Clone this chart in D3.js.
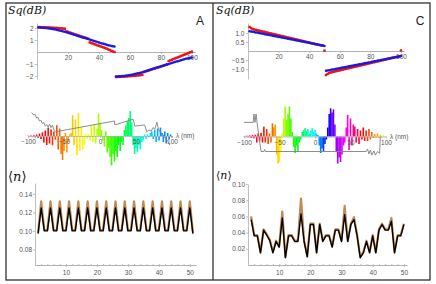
<!DOCTYPE html>
<html>
<head>
<script src="https://d3js.org/d3.v7.min.js"></script>
<style>
  body { margin: 0; background: #fff; }
  svg text { font-family: "Liberation Sans", Arial, sans-serif; }
  svg text.serif { font-family: "DejaVu Serif", "Liberation Serif", serif; }
  .ax text { font-size: 6.5px; fill: #555; }
  .ax line, .ax path { stroke: #b0b0b0; stroke-width: 0.8; }
</style>
</head>
<body>
<svg width="436" height="284"></svg>
<script>
const svg = d3.select("svg");

// ---- top row: Sq(dB) vs index 1..100
const sqA_red = [2.08, 2.08, 2.07, 2.07, 2.06, 2.05, 2.05, 2.04, 2.03, 2.02, 2.02, 2.01, 2.00, 1.99, 1.98, 1.97, 1.95, 1.94,
  1.72, 1.68, 1.63, 1.59, 1.55, 1.50, 1.46, 1.42, 1.37, 1.33, 1.29, 1.24, 1.20, 1.16, 1.11,
  0.80, 0.75, 0.71, 0.66, 0.61, 0.56, 0.52, 0.47, 0.42, 0.38, 0.33, 0.28,
  0.22, 0.16, 0.10, 0.05, 0.00,
  -2.08, -2.08, -2.07, -2.07, -2.06, -2.05, -2.04, -2.03, -2.02, -2.01, -2.00, -1.99, -1.98, -1.97, -1.95, -1.94, -1.92, -1.90,
  -1.67, -1.63, -1.58, -1.54, -1.50, -1.46, -1.41, -1.37, -1.33, -1.29, -1.24, -1.20, -1.16, -1.11, -1.07, -1.03,
  -0.75, -0.70, -0.65, -0.59, -0.54, -0.49, -0.44, -0.39, -0.33, -0.28, -0.23, -0.18, -0.13, -0.07, -0.02, 0.03];
const sqA_blue = [2.05, 2.04, 2.03, 2.02, 2.01, 2.00, 1.98, 1.96, 1.94, 1.92,
  1.90, 1.87, 1.84, 1.81, 1.78, 1.75, 1.72, 1.68, 1.64, 1.60,
  1.56, 1.52, 1.48, 1.44, 1.40, 1.36, 1.32, 1.28, 1.24, 1.20,
  1.16, 1.12, 1.08, 1.04, 1.00, 0.96, 0.92, 0.88, 0.84, 0.80,
  0.76, 0.72, 0.68, 0.64, 0.60, 0.57, 0.54, 0.51, 0.48, 0.45,
  -2.05, -2.04, -2.03, -2.02, -2.01, -2.00, -1.98, -1.96, -1.94, -1.92,
  -1.90, -1.87, -1.84, -1.81, -1.78, -1.75, -1.72, -1.68, -1.64, -1.60,
  -1.56, -1.52, -1.48, -1.44, -1.40, -1.36, -1.32, -1.28, -1.24, -1.20,
  -1.16, -1.12, -1.08, -1.04, -1.00, -0.96, -0.92, -0.88, -0.84, -0.80,
  -0.76, -0.72, -0.68, -0.64, -0.60, -0.57, -0.54, -0.51, -0.48, -0.45];
const sqC_red = [1.33, 1.27, 1.22, 1.19, 1.17, 1.15, 1.13, 1.11, 1.09, 1.07,
  1.05, 1.03, 1.01, 0.99, 0.97, 0.95, 0.93, 0.91, 0.89, 0.87,
  0.85, 0.83, 0.81, 0.79, 0.77, 0.75, 0.73, 0.71, 0.69, 0.67,
  0.65, 0.63, 0.61, 0.59, 0.57, 0.55, 0.53, 0.51, 0.49, 0.47,
  0.45, 0.43, 0.41, 0.39, 0.37, 0.35, 0.33, 0.31, 0.29, 0.02,
  -1.33, -1.27, -1.22, -1.19, -1.17, -1.15, -1.13, -1.11, -1.09, -1.07,
  -1.05, -1.03, -1.01, -0.99, -0.97, -0.95, -0.93, -0.91, -0.89, -0.87,
  -0.85, -0.83, -0.81, -0.79, -0.77, -0.75, -0.73, -0.71, -0.69, -0.67,
  -0.65, -0.63, -0.61, -0.59, -0.57, -0.55, -0.53, -0.51, -0.49, -0.47,
  -0.45, -0.43, -0.41, -0.39, -0.37, -0.35, -0.33, -0.31, -0.29, 0.03];
const sqC_blue = [1.10, 1.08, 1.07, 1.05, 1.03, 1.02, 1.00, 0.98, 0.97, 0.95,
  0.93, 0.92, 0.90, 0.88, 0.87, 0.85, 0.83, 0.82, 0.80, 0.78,
  0.77, 0.75, 0.73, 0.72, 0.70, 0.68, 0.67, 0.65, 0.63, 0.62,
  0.60, 0.58, 0.57, 0.55, 0.53, 0.52, 0.50, 0.48, 0.47, 0.45,
  0.43, 0.42, 0.40, 0.38, 0.37, 0.35, 0.33, 0.32, 0.30, 0.28,
  -1.10, -1.08, -1.07, -1.05, -1.03, -1.02, -1.00, -0.98, -0.97, -0.95,
  -0.93, -0.92, -0.90, -0.88, -0.87, -0.85, -0.83, -0.82, -0.80, -0.78,
  -0.77, -0.75, -0.73, -0.72, -0.70, -0.68, -0.67, -0.65, -0.63, -0.62,
  -0.60, -0.58, -0.57, -0.55, -0.53, -0.52, -0.50, -0.48, -0.47, -0.45,
  -0.43, -0.42, -0.40, -0.38, -0.37, -0.35, -0.33, -0.32, -0.30, -0.28];
const sqXTicks = [20, 40, 60, 80, 100];
const sqYTicksA = [-2, -1, 1, 2];
const sqYTicksC = [-1.0, -0.5, 0.5, 1.0];

// ---- middle row: spectra on the λ grid -100..100 (step 2 nm)
const specA = [0.02, -0.03, 0.03, -0.04, 0.04, -0.05, 0.05, -0.06, 0.08,
  -0.10, 0.12, -0.22, 0.18, -0.30, 0.28, -0.25, 0.22, -0.31,
  0.15, -0.12, 0.36, -0.45, 0.25, -0.60,
  -0.80, -0.50, 0.10, -0.55, -0.20, 0.05,
  0.10, 0.69, -0.30, 0.55, -0.64, 0.77, -0.50, 0.30,
  -0.45, -0.30, 0.05, -0.10, 0.05, -0.15,
  0.35, -0.20, 0.40, -0.25, 0.25, 0.74, 0.45,
  0.20, -0.15, -0.35, 0.15, -0.55, -0.40, -0.70,
  -0.98, -0.60, -0.85, -0.50, -0.70, -0.30, -0.50, -0.20,
  -0.30, 0.20, 0.35, 0.50, 0.60, 0.83, 0.45,
  -0.30, -0.60, -0.40, -0.55, -0.30, -0.45, -0.20, -0.15,
  0.05, -0.10, 0.05, -0.05, 0.10,
  0.15, -0.10, 0.20, -0.20, 0.25, -0.15, 0.28, 0.10, -0.20, 0.15, -0.25, 0.10, -0.10, 0.05, -0.05];
const specC = [0.02, -0.02, 0.03, -0.03, 0.04, -0.05, 0.05, -0.06, 0.06,
  -0.20, 0.10, -0.15, 0.12, -0.20,
  0.33, -0.20, 0.25,
  -0.25, 0.10, -0.20,
  0.44, 0.30, 0.40,
  -0.60, -0.90, -0.85, -0.50, 0.10,
  0.60, 1.00, 0.55, 0.75, 1.00, 0.60, 0.15,
  -0.35, -0.55, -0.30, -0.50, -0.20, -0.10,
  0.15, 0.22, 0.28, 0.18, 0.25, 0.10, 0.20, 0.28, 0.15, 0.22, 0.10, 0.05,
  -0.30, -0.55, -0.40, -0.50, -0.25, -0.10,
  0.30, 0.75, 0.94, 0.80, 0.90, 0.40,
  -0.50, -0.90, -0.70, -0.85, -0.60, -0.30, -0.20,
  0.30, 0.72, -0.45, 0.60, -0.30, 0.40,
  0.33, -0.20, 0.25, -0.25, 0.20, -0.10, 0.30, -0.15,
  0.20, -0.15, 0.25, -0.10, 0.15, -0.05,
  0.08, -0.05, 0.10, -0.05, 0.06, -0.03, 0.04, -0.02, 0.01];
// grey trace: [λ, value]
const grayA = [[-95, 0.78], [-92, 0.70], [-90, 0.72], [-88, 0.60], [-86, 0.62], [-84, 0.50], [-82, 0.52],
  [-80, 0.42], [-78, 0.45], [-76, 0.33], [-74, 0.38], [-72, 0.30], [-70, 0.40], [-68, 0.28],
  [-66, 0.36], [-64, 0.20], [-62, 0.14], [20, 0.50], [20.5, 0.37], [46, 0.56], [48.5, 0.33],
  [62, 0.37], [65, 0.14], [68, 0.20], [71, 0.16], [74, 0.28], [76, 0.22], [79, 0.46],
  [81, 0.25], [83, 0.14], [86, 0.10], [90, -0.05], [94, -0.18], [97, -0.30]];
const grayC = [[-100, 0.47], [-87, 0.47], [-86, 0.75], [-84.5, 0.47], [-83, 0.75], [-81, 0.35],
  [-76, -0.50], [-72, -0.50], [-71, -0.43], [-70, -0.50], [72, -0.50], [74, -0.42], [76, -0.58],
  [78, -0.45], [80, -0.62], [83, -0.48], [85, -0.62], [88, -0.50], [91, -0.56], [92, 0]];
const lamTicks = [-100, -50, 0, 50, 100];

// ---- bottom row: <n> vs index
const nA_black = [0.097, 0.125, 0.100, 0.100, 0.125, 0.100, 0.100, 0.125, 0.100, 0.100,
  0.125, 0.100, 0.100, 0.125, 0.100, 0.100, 0.125, 0.100, 0.100, 0.125,
  0.100, 0.100, 0.125, 0.100, 0.100, 0.125, 0.100, 0.100, 0.125, 0.100,
  0.100, 0.125, 0.100, 0.100, 0.125, 0.100, 0.100, 0.125, 0.100, 0.100,
  0.125, 0.100, 0.100, 0.125, 0.100, 0.100, 0.125, 0.100, 0.100, 0.125, 0.097];
const nA_brown = [0.098, 0.132, 0.101, 0.101, 0.132, 0.101, 0.101, 0.132, 0.101, 0.101,
  0.132, 0.101, 0.101, 0.132, 0.101, 0.101, 0.132, 0.101, 0.101, 0.132,
  0.101, 0.101, 0.132, 0.101, 0.101, 0.132, 0.101, 0.101, 0.132, 0.101,
  0.101, 0.132, 0.101, 0.101, 0.132, 0.101, 0.101, 0.132, 0.101, 0.101,
  0.132, 0.101, 0.101, 0.132, 0.101, 0.101, 0.132, 0.101, 0.101, 0.132, 0.098];
const nC_black = [0.056, 0.036, 0.036, 0.015, 0.043, 0.037, 0.030, 0.015, 0.029, 0.022,
  0.058, 0.009, 0.036, 0.036, 0.029, 0.029, 0.063, 0.029, 0.010, 0.050,
  0.050, 0.015, 0.050, 0.029, 0.036, 0.036, 0.022, 0.043, 0.043, 0.029,
  0.062, 0.029, 0.050, 0.056, 0.036, 0.009, 0.015, 0.029, 0.015, 0.036,
  0.015, 0.043, 0.050, 0.043, 0.043, 0.054, 0.015, 0.036, 0.036, 0.050];
const nC_brown = [0.060, 0.037, 0.037, 0.016, 0.044, 0.038, 0.031, 0.016, 0.030, 0.023,
  0.066, 0.010, 0.037, 0.037, 0.030, 0.030, 0.082, 0.030, 0.011, 0.051,
  0.051, 0.016, 0.051, 0.030, 0.037, 0.037, 0.023, 0.044, 0.044, 0.030,
  0.073, 0.030, 0.051, 0.059, 0.037, 0.010, 0.016, 0.030, 0.016, 0.037,
  0.016, 0.044, 0.051, 0.044, 0.044, 0.058, 0.016, 0.037, 0.037, 0.051];
const nXTicks = [10, 20, 30, 40, 50];
const nYTicksA = [0.08, 0.10, 0.12, 0.14];
const nYTicksC = [0.02, 0.04, 0.06, 0.08, 0.10];

// frame
svg.append("rect").attr("x", 6).attr("y", 3).attr("width", 424).attr("height", 277)
  .attr("fill", "none").attr("stroke", "#333").attr("stroke-width", 1.3);
svg.append("line").attr("x1", 213).attr("x2", 213).attr("y1", 3).attr("y2", 280)
  .attr("stroke", "#333").attr("stroke-width", 1.3);

function sqPanel(red, blue, xr, yDom, yr, yTicks, fmt) {
  const x = d3.scaleLinear().domain([0, 102]).range(xr);
  const y = d3.scaleLinear().domain(yDom).range(yr);
  const g = svg.append("g");
  g.append("g").attr("class", "ax").attr("transform", `translate(0,${y(0)})`)
    .call(d3.axisBottom(x).tickValues(d3.range(5, 101, 5)).tickSize(1).tickSizeOuter(0).tickFormat(""));
  g.append("g").attr("class", "ax").attr("transform", `translate(0,${y(0)})`)
    .call(d3.axisBottom(x).tickValues(sqXTicks).tickSize(2).tickSizeOuter(0).tickPadding(1.5));
  g.append("g").attr("class", "ax").attr("transform", `translate(${x(0)},0)`)
    .call(d3.axisLeft(y).tickValues(yTicks).tickSize(2).tickSizeOuter(0).tickPadding(1.5).tickFormat(fmt));
  g.append("g").selectAll("rect").data(red).join("rect")
    .attr("x", (d, i) => x(i + 1) - 1.2).attr("y", d => y(d) - 1.2)
    .attr("width", 2.4).attr("height", 2.4).attr("fill", "#f01010");
  g.append("g").selectAll("circle").data(blue).join("circle")
    .attr("cx", (d, i) => x(i + 1)).attr("cy", d => y(d)).attr("r", 1.25).attr("fill", "#1818e8");
}
sqPanel(sqA_red, sqA_blue, [37, 195], [-2.25, 2.42], [79, 23], sqYTicksA, d3.format("d"));
sqPanel(sqC_red, sqC_blue, [248, 404], [-1.55, 1.55], [79, 23], sqYTicksC, d3.format(".1f"));

function specPanel(amp, gray, xr, y0, hueDom, hueRange, lightDom, lightRange) {
  const lam = d3.range(-100, 101, 2);
  const x = d3.scaleLinear().domain([-100, 100]).range(xr);
  const y = d3.scaleLinear().domain([-1, 1]).range([y0 + 30, y0 - 30]);
  const hue = d3.scaleLinear().domain(hueDom).range(hueRange);
  const light = d3.scaleLinear().domain(lightDom).range(lightRange).clamp(true);
  const col = l => d3.hsl(hue(l) % 360, 1, light(l)).toString();
  const g = svg.append("g");
  g.append("g").selectAll("rect").data(amp).join("rect")
    .attr("x", (d, i) => x(lam[i]) - 0.8).attr("width", 1.6)
    .attr("y", d => Math.min(y(d), y(0))).attr("height", d => Math.abs(y(d) - y(0)))
    .attr("fill", (d, i) => col(lam[i]));
  g.append("g").attr("class", "ax").attr("transform", `translate(0,${y(0)})`)
    .call(d3.axisBottom(x).tickValues(lamTicks).tickSize(2).tickSizeOuter(0).tickPadding(1.5));
  g.append("path").datum(gray)
    .attr("d", d3.line().x(d => x(d[0])).y(d => y(d[1])))
    .attr("fill", "none").attr("stroke", "#808080").attr("stroke-width", 0.9);
  g.append("text").attr("x", xr[1] + 4).attr("y", y(0) + 2.2)
    .attr("font-size", 6.5).attr("fill", "#555").text("λ (nm)");
}
specPanel(specA, grayA, [28, 172], 136,
  [-100, -75, -55, -35, -10, 5, 25, 50, 65, 85, 100],
  [340, 360, 385, 410, 430, 450, 480, 520, 545, 565, 572],
  [-100, -86], [0.78, 0.5]);
specPanel(specC, grayC, [244, 386], 136.5,
  [-100, -75, -60, -50, -38, -25, 0, 15, 30, 45, 60, 80, 100],
  [315, 360, 385, 415, 455, 485, 545, 595, 635, 665, 705, 745, 780],
  [-100, -86], [0.65, 0.5]);

function nPanel(black, brown, xr, xMax, yDom, yr, yTicks) {
  const x = d3.scaleLinear().domain([0, xMax]).range(xr);
  const y = d3.scaleLinear().domain(yDom).range(yr);
  const g = svg.append("g");
  g.append("g").attr("class", "ax").attr("transform", `translate(0,${yr[0]})`)
    .call(d3.axisTop(x).tickValues(d3.range(2, xMax, 2)).tickSize(1).tickSizeOuter(0).tickFormat(""));
  g.append("g").attr("class", "ax").attr("transform", `translate(0,${yr[0]})`)
    .call(d3.axisBottom(x).tickValues(nXTicks).tickSize(2).tickSizeOuter(0).tickPadding(3.5));
  g.append("g").attr("class", "ax").attr("transform", `translate(${xr[0]},0)`)
    .call(d3.axisLeft(y).tickValues(yTicks).tickSize(2).tickSizeOuter(0).tickPadding(1).tickFormat(d3.format(".2f")));
  const line = d3.line().x((d, i) => x(i + 1)).y(d => y(d));
  g.append("path").datum(brown).attr("d", line).attr("fill", "none")
    .attr("stroke", "#c08a52").attr("stroke-width", 2.2).attr("stroke-linejoin", "round");
  g.append("path").datum(black).attr("d", line).attr("fill", "none")
    .attr("stroke", "#000").attr("stroke-width", 1.4).attr("stroke-linejoin", "round");
}
nPanel(nA_black, nA_brown, [35, 196], 52, [0.063, 0.152], [265, 183], nYTicksA);
nPanel(nC_black, nC_brown, [248, 407], 51, [0, 0.1], [265, 184], nYTicksC);

// titles
function sqLabel(x, y) {
  svg.append("text").attr("class", "serif").attr("x", x).attr("y", y)
    .attr("font-style", "italic").attr("font-size", 11).attr("fill", "#111").text("Sq(dB)");
}
sqLabel(8, 14);
sqLabel(216, 14);
function nLabel(x, y, size) {
  const t = svg.append("text").attr("class", "serif").attr("x", x).attr("y", y)
    .attr("font-size", size).attr("fill", "#111");
  t.append("tspan").text("⟨");
  t.append("tspan").attr("font-style", "italic").text("n");
  t.append("tspan").text("⟩");
}
nLabel(8, 181, 13);
nLabel(216, 179, 11);
svg.append("text").attr("x", 200).attr("y", 25).attr("text-anchor", "middle")
  .attr("font-size", 12).attr("fill", "#222").text("A");
svg.append("text").attr("x", 420).attr("y", 25).attr("text-anchor", "middle")
  .attr("font-size", 12).attr("fill", "#222").text("C");
</script>
</body>
</html>
